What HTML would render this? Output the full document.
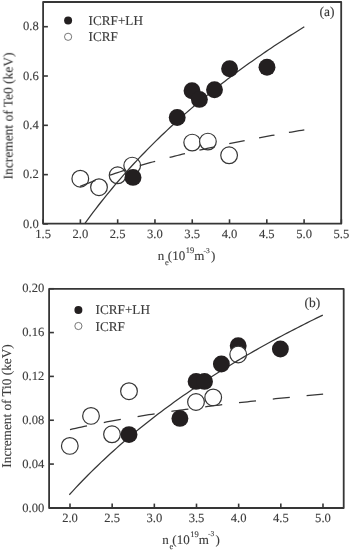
<!DOCTYPE html>
<html><head><meta charset="utf-8"><style>
html,body{margin:0;padding:0;background:#fff;}
body{width:350px;height:550px;overflow:hidden;}
svg{display:block;}
text{text-rendering:geometricPrecision;will-change:transform;stroke:#3a3a3a;stroke-width:0.12px;font-family:"Liberation Serif",serif;fill:#3a3a3a;}
.tk{font-size:12.6px;}
.lg{font-size:13.2px;}
.ti{font-size:13px;}
.tg{font-size:13.5px;}
.sb{font-size:8.5px;}
.sb2{font-size:8.5px;}
.sb3{font-size:7.5px;}
</style></head><body>
<svg width="350" height="550" viewBox="0 0 350 550">
<rect width="350" height="550" fill="#fff"/>
<rect x="43.1" y="2.0" width="298.10" height="221.70" fill="none" stroke="#363636" stroke-width="1.8" stroke-linejoin="round"/>
<line x1="43.10" y1="223.7" x2="43.10" y2="219.30" stroke="#363636" stroke-width="1.6"/>
<text class="tk" x="43.10" y="238.3" text-anchor="middle">1.5</text>
<line x1="80.38" y1="223.7" x2="80.38" y2="219.30" stroke="#363636" stroke-width="1.6"/>
<text class="tk" x="80.38" y="238.3" text-anchor="middle">2.0</text>
<line x1="117.67" y1="223.7" x2="117.67" y2="219.30" stroke="#363636" stroke-width="1.6"/>
<text class="tk" x="117.67" y="238.3" text-anchor="middle">2.5</text>
<line x1="154.95" y1="223.7" x2="154.95" y2="219.30" stroke="#363636" stroke-width="1.6"/>
<text class="tk" x="154.95" y="238.3" text-anchor="middle">3.0</text>
<line x1="192.24" y1="223.7" x2="192.24" y2="219.30" stroke="#363636" stroke-width="1.6"/>
<text class="tk" x="192.24" y="238.3" text-anchor="middle">3.5</text>
<line x1="229.52" y1="223.7" x2="229.52" y2="219.30" stroke="#363636" stroke-width="1.6"/>
<text class="tk" x="229.52" y="238.3" text-anchor="middle">4.0</text>
<line x1="266.81" y1="223.7" x2="266.81" y2="219.30" stroke="#363636" stroke-width="1.6"/>
<text class="tk" x="266.81" y="238.3" text-anchor="middle">4.5</text>
<line x1="304.10" y1="223.7" x2="304.10" y2="219.30" stroke="#363636" stroke-width="1.6"/>
<text class="tk" x="304.10" y="238.3" text-anchor="middle">5.0</text>
<line x1="341.38" y1="223.7" x2="341.38" y2="219.30" stroke="#363636" stroke-width="1.6"/>
<text class="tk" x="341.38" y="238.3" text-anchor="middle">5.5</text>
<line x1="43.1" y1="223.94" x2="47.90" y2="223.94" stroke="#363636" stroke-width="1.6"/>
<text class="tk" x="38.8" y="227.59" text-anchor="end">0.0</text>
<line x1="43.1" y1="174.63" x2="47.90" y2="174.63" stroke="#363636" stroke-width="1.6"/>
<text class="tk" x="38.8" y="178.28" text-anchor="end">0.2</text>
<line x1="43.1" y1="125.32" x2="47.90" y2="125.32" stroke="#363636" stroke-width="1.6"/>
<text class="tk" x="38.8" y="128.97" text-anchor="end">0.4</text>
<line x1="43.1" y1="76.01" x2="47.90" y2="76.01" stroke="#363636" stroke-width="1.6"/>
<text class="tk" x="38.8" y="79.66" text-anchor="end">0.6</text>
<line x1="43.1" y1="26.70" x2="47.90" y2="26.70" stroke="#363636" stroke-width="1.6"/>
<text class="tk" x="38.8" y="30.35" text-anchor="end">0.8</text>
<circle cx="80.3" cy="178.7" r="8.35" fill="#fff" stroke="#363636" stroke-width="1.2"/>
<circle cx="99" cy="187.2" r="8.35" fill="#fff" stroke="#363636" stroke-width="1.2"/>
<circle cx="117.6" cy="175.3" r="8.35" fill="#fff" stroke="#363636" stroke-width="1.2"/>
<circle cx="132.2" cy="165.6" r="8.35" fill="#fff" stroke="#363636" stroke-width="1.2"/>
<circle cx="192.2" cy="142.6" r="8.35" fill="#fff" stroke="#363636" stroke-width="1.2"/>
<circle cx="207.9" cy="141.6" r="8.35" fill="#fff" stroke="#363636" stroke-width="1.2"/>
<circle cx="229.1" cy="155.3" r="8.35" fill="#fff" stroke="#363636" stroke-width="1.2"/>
<polyline points="84.60,223.80 87.35,220.03 90.09,216.31 92.84,212.65 95.58,209.05 98.33,205.50 101.08,202.00 103.82,198.55 106.57,195.15 109.32,191.79 112.06,188.48 114.81,185.22 117.55,182.00 120.30,178.82 123.05,175.69 125.79,172.59 128.54,169.53 131.29,166.51 134.03,163.53 136.78,160.58 139.52,157.67 142.27,154.80 145.02,151.96 147.76,149.15 150.51,146.37 153.26,143.63 156.00,140.91 158.75,138.23 161.50,135.57 164.24,132.95 166.99,130.35 169.73,127.78 172.48,125.23 175.23,122.72 177.97,120.23 180.72,117.76 183.47,115.32 186.21,112.90 188.96,110.51 191.70,108.14 194.45,105.80 197.20,103.47 199.94,101.17 202.69,98.89 205.44,96.63 208.18,94.40 210.93,92.18 213.67,89.98 216.42,87.80 219.17,85.65 221.91,83.51 224.66,81.39 227.41,79.29 230.15,77.20 232.90,75.14 235.64,73.09 238.39,71.06 241.14,69.04 243.88,67.05 246.63,65.07 249.38,63.10 252.12,61.15 254.87,59.22 257.61,57.30 260.36,55.40 263.11,53.51 265.85,51.64 268.60,49.78 271.35,47.93 274.09,46.10 276.84,44.28 279.58,42.48 282.33,40.69 285.08,38.91 287.82,37.15 290.57,35.40 293.31,33.66 296.06,31.93 298.81,30.22 301.55,28.51 304.30,26.82" fill="none" stroke="#363636" stroke-width="1.25"/>
<polyline points="80.10,186.42 82.67,185.36 85.23,184.33 87.80,183.31 90.37,182.31 92.93,181.33 95.50,180.36" fill="none" stroke="#363636" stroke-width="1.25"/>
<polyline points="109.93,175.18 112.50,174.30 115.06,173.44 117.63,172.58 120.20,171.74 122.76,170.91 125.33,170.09" fill="none" stroke="#363636" stroke-width="1.25"/>
<polyline points="139.76,165.68 142.33,164.93 144.89,164.18 147.46,163.45 150.03,162.72 152.59,162.01 155.16,161.30" fill="none" stroke="#363636" stroke-width="1.25"/>
<polyline points="169.59,157.45 172.16,156.80 174.72,156.14 177.29,155.50 179.86,154.86 182.42,154.23 184.99,153.60" fill="none" stroke="#363636" stroke-width="1.25"/>
<polyline points="199.42,150.20 201.99,149.61 204.55,149.03 207.12,148.46 209.69,147.89 212.25,147.32 214.82,146.76" fill="none" stroke="#363636" stroke-width="1.25"/>
<polyline points="229.25,143.71 231.82,143.18 234.38,142.66 236.95,142.14 239.52,141.63 242.08,141.12 244.65,140.61" fill="none" stroke="#363636" stroke-width="1.25"/>
<polyline points="259.08,137.84 261.65,137.36 264.21,136.89 266.78,136.41 269.35,135.94 271.91,135.48 274.48,135.02" fill="none" stroke="#363636" stroke-width="1.25"/>
<polyline points="288.91,132.48 291.48,132.04 294.04,131.61 296.61,131.17 299.18,130.74 301.74,130.31 304.31,129.89" fill="none" stroke="#363636" stroke-width="1.25"/>
<circle cx="133" cy="177.4" r="8.45" fill="#231f20"/>
<circle cx="177.2" cy="117.5" r="8.45" fill="#231f20"/>
<circle cx="192" cy="90.7" r="8.45" fill="#231f20"/>
<circle cx="199.4" cy="99.4" r="8.45" fill="#231f20"/>
<circle cx="214.5" cy="89.8" r="8.45" fill="#231f20"/>
<circle cx="229.6" cy="68.8" r="8.45" fill="#231f20"/>
<circle cx="267" cy="67.2" r="8.45" fill="#231f20"/>
<circle cx="68.1" cy="20.6" r="4.0" fill="#231f20"/>
<circle cx="68.1" cy="36.8" r="3.6" fill="#fff" stroke="#555" stroke-width="0.8"/>
<text class="lg" x="88.6" y="25.2">ICRF+LH</text>
<text class="lg" x="88.6" y="40.6">ICRF</text>
<text class="tg" x="334.5" y="16.2" text-anchor="end">(a)</text>
<text class="ti" x="157.80" y="260.00">n</text>
<text class="sb" x="165.00" y="265.00">e</text>
<text class="ti" x="167.70" y="260.00">(</text>
<text class="ti" x="172.30" y="260.00">10</text>
<text class="sb2" x="185.80" y="253.00">19</text>
<text class="ti" x="194.30" y="260.00">m</text>
<text class="sb3" x="203.60" y="252.70">-3</text>
<text class="ti" x="211.00" y="260.00">)</text>
<text class="yt" style="font-size:13.45px" transform="translate(12.6,115.9) rotate(-90)" text-anchor="middle">Increment of Te0 (keV)</text>
<rect x="49.1" y="288.9" width="294.60" height="219.10" fill="none" stroke="#363636" stroke-width="1.8" stroke-linejoin="round"/>
<line x1="70.00" y1="508.0" x2="70.00" y2="503.60" stroke="#363636" stroke-width="1.6"/>
<text class="tk" x="70.00" y="522.4" text-anchor="middle">2.0</text>
<line x1="112.16" y1="508.0" x2="112.16" y2="503.60" stroke="#363636" stroke-width="1.6"/>
<text class="tk" x="112.16" y="522.4" text-anchor="middle">2.5</text>
<line x1="154.33" y1="508.0" x2="154.33" y2="503.60" stroke="#363636" stroke-width="1.6"/>
<text class="tk" x="154.33" y="522.4" text-anchor="middle">3.0</text>
<line x1="196.50" y1="508.0" x2="196.50" y2="503.60" stroke="#363636" stroke-width="1.6"/>
<text class="tk" x="196.50" y="522.4" text-anchor="middle">3.5</text>
<line x1="238.66" y1="508.0" x2="238.66" y2="503.60" stroke="#363636" stroke-width="1.6"/>
<text class="tk" x="238.66" y="522.4" text-anchor="middle">4.0</text>
<line x1="280.82" y1="508.0" x2="280.82" y2="503.60" stroke="#363636" stroke-width="1.6"/>
<text class="tk" x="280.82" y="522.4" text-anchor="middle">4.5</text>
<line x1="322.99" y1="508.0" x2="322.99" y2="503.60" stroke="#363636" stroke-width="1.6"/>
<text class="tk" x="322.99" y="522.4" text-anchor="middle">5.0</text>
<line x1="49.1" y1="507.90" x2="53.90" y2="507.90" stroke="#363636" stroke-width="1.6"/>
<text class="tk" x="44.3" y="511.55" text-anchor="end">0.00</text>
<line x1="49.1" y1="464.07" x2="53.90" y2="464.07" stroke="#363636" stroke-width="1.6"/>
<text class="tk" x="44.3" y="467.72" text-anchor="end">0.04</text>
<line x1="49.1" y1="420.24" x2="53.90" y2="420.24" stroke="#363636" stroke-width="1.6"/>
<text class="tk" x="44.3" y="423.89" text-anchor="end">0.08</text>
<line x1="49.1" y1="376.40" x2="53.90" y2="376.40" stroke="#363636" stroke-width="1.6"/>
<text class="tk" x="44.3" y="380.05" text-anchor="end">0.12</text>
<line x1="49.1" y1="332.57" x2="53.90" y2="332.57" stroke="#363636" stroke-width="1.6"/>
<text class="tk" x="44.3" y="336.22" text-anchor="end">0.16</text>
<line x1="49.1" y1="288.74" x2="53.90" y2="288.74" stroke="#363636" stroke-width="1.6"/>
<text class="tk" x="44.3" y="292.39" text-anchor="end">0.20</text>
<circle cx="69.8" cy="445.9" r="8.35" fill="#fff" stroke="#363636" stroke-width="1.2"/>
<circle cx="91" cy="415.9" r="8.35" fill="#fff" stroke="#363636" stroke-width="1.2"/>
<circle cx="112" cy="434.3" r="8.35" fill="#fff" stroke="#363636" stroke-width="1.2"/>
<circle cx="129" cy="391.2" r="8.35" fill="#fff" stroke="#363636" stroke-width="1.2"/>
<circle cx="196" cy="402" r="8.35" fill="#fff" stroke="#363636" stroke-width="1.2"/>
<circle cx="213.2" cy="397.4" r="8.35" fill="#fff" stroke="#363636" stroke-width="1.2"/>
<circle cx="238.2" cy="345.7" r="8.45" fill="#231f20"/>
<circle cx="238.2" cy="354.5" r="8.35" fill="#fff" stroke="#363636" stroke-width="1.2"/>
<polyline points="69.30,494.77 72.47,491.31 75.64,487.90 78.81,484.55 81.97,481.24 85.14,477.99 88.31,474.78 91.48,471.62 94.65,468.51 97.82,465.44 100.99,462.41 104.16,459.43 107.32,456.48 110.49,453.57 113.66,450.71 116.83,447.87 120.00,445.08 123.17,442.32 126.34,439.60 129.51,436.90 132.68,434.25 135.84,431.62 139.01,429.02 142.18,426.46 145.35,423.93 148.52,421.42 151.69,418.94 154.86,416.49 158.02,414.07 161.19,411.68 164.36,409.31 167.53,406.96 170.70,404.64 173.87,402.35 177.04,400.08 180.21,397.83 183.38,395.61 186.54,393.40 189.71,391.22 192.88,389.07 196.05,386.93 199.22,384.81 202.39,382.72 205.56,380.64 208.73,378.58 211.89,376.55 215.06,374.53 218.23,372.53 221.40,370.55 224.57,368.58 227.74,366.63 230.91,364.71 234.07,362.79 237.24,360.90 240.41,359.02 243.58,357.16 246.75,355.31 249.92,353.48 253.09,351.66 256.26,349.86 259.43,348.07 262.59,346.30 265.76,344.54 268.93,342.80 272.10,341.07 275.27,339.35 278.44,337.65 281.61,335.96 284.77,334.28 287.94,332.62 291.11,330.96 294.28,329.33 297.45,327.70 300.62,326.08 303.79,324.48 306.96,322.89 310.12,321.31 313.29,319.74 316.46,318.18 319.63,316.64 322.80,315.10" fill="none" stroke="#363636" stroke-width="1.25"/>
<polyline points="70.00,429.59 72.83,428.95 75.67,428.31 78.50,427.69 81.33,427.07 84.17,426.47 87.00,425.87" fill="none" stroke="#363636" stroke-width="1.25"/>
<polyline points="103.80,422.52 106.63,421.98 109.47,421.45 112.30,420.93 115.13,420.41 117.97,419.90 120.80,419.40" fill="none" stroke="#363636" stroke-width="1.25"/>
<polyline points="137.60,416.55 140.43,416.08 143.27,415.63 146.10,415.18 148.93,414.73 151.77,414.29 154.60,413.86" fill="none" stroke="#363636" stroke-width="1.25"/>
<polyline points="171.40,411.37 174.23,410.97 177.07,410.57 179.90,410.17 182.73,409.78 185.57,409.39 188.40,409.01" fill="none" stroke="#363636" stroke-width="1.25"/>
<polyline points="205.20,406.81 208.03,406.45 210.87,406.09 213.70,405.74 216.53,405.39 219.37,405.05 222.20,404.70" fill="none" stroke="#363636" stroke-width="1.25"/>
<polyline points="239.00,402.73 241.83,402.41 244.67,402.08 247.50,401.77 250.33,401.45 253.17,401.14 256.00,400.83" fill="none" stroke="#363636" stroke-width="1.25"/>
<polyline points="272.80,399.04 275.63,398.74 278.47,398.45 281.30,398.16 284.13,397.88 286.97,397.59 289.80,397.31" fill="none" stroke="#363636" stroke-width="1.25"/>
<polyline points="306.60,395.67 309.35,395.41 312.10,395.15 314.85,394.89 317.60,394.63 320.35,394.38 323.10,394.13" fill="none" stroke="#363636" stroke-width="1.25"/>
<circle cx="129" cy="434.6" r="8.45" fill="#231f20"/>
<circle cx="179.9" cy="418.4" r="8.45" fill="#231f20"/>
<circle cx="196.1" cy="381.4" r="8.45" fill="#231f20"/>
<circle cx="204.5" cy="381.4" r="8.45" fill="#231f20"/>
<circle cx="221.4" cy="364" r="8.45" fill="#231f20"/>
<circle cx="280.4" cy="349" r="8.45" fill="#231f20"/>
<circle cx="78.4" cy="309.9" r="4.0" fill="#231f20"/>
<circle cx="78.4" cy="326.0" r="3.6" fill="#fff" stroke="#555" stroke-width="0.8"/>
<text class="lg" x="95.6" y="314.2">ICRF+LH</text>
<text class="lg" x="95.6" y="330.6">ICRF</text>
<text class="tg" x="320.3" y="306.8" text-anchor="end">(b)</text>
<text class="ti" x="162.30" y="543.70">n</text>
<text class="sb" x="169.50" y="548.70">e</text>
<text class="ti" x="172.20" y="543.70">(</text>
<text class="ti" x="176.80" y="543.70">10</text>
<text class="sb2" x="190.30" y="536.70">19</text>
<text class="ti" x="198.80" y="543.70">m</text>
<text class="sb3" x="208.10" y="536.40">-3</text>
<text class="ti" x="215.50" y="543.70">)</text>
<text class="yt" style="font-size:13.25px" transform="translate(11,406) rotate(-90)" text-anchor="middle">Increment of Ti0 (keV)</text>
</svg>
</body></html>
